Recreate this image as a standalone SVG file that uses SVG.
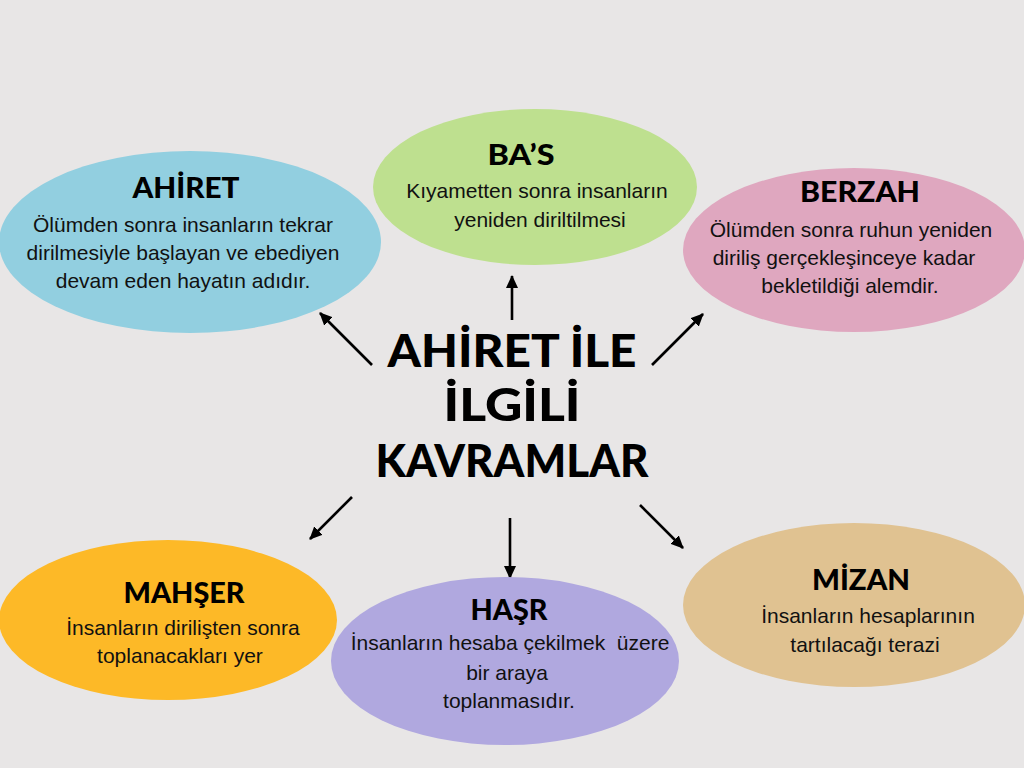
<svg xmlns="http://www.w3.org/2000/svg" width="1024" height="768" viewBox="0 0 1024 768">
<defs>
<marker id="ah" markerUnits="userSpaceOnUse" markerWidth="14" markerHeight="14" viewBox="0 0 14 14" refX="12" refY="7" orient="auto">
<path d="M0,1 L13,7 L0,13 z" fill="#000"/>
</marker>
<style>
.title{font-family:Lato,"Open Sans","DejaVu Sans",sans-serif;font-weight:900;fill:#000;text-anchor:middle}
.body{font-family:"Liberation Sans",Arial,sans-serif;font-size:21px;fill:#111;text-anchor:middle}
.conn line{stroke:#000;stroke-width:2.6;marker-end:url(#ah)}
</style>
</defs>
<rect width="1024" height="768" fill="#E8E6E6"/>

<g id="center">
<text class="title" x="512" y="367" font-size="45" textLength="249" lengthAdjust="spacingAndGlyphs">AHİRET İLE</text>
<text class="title" x="512" y="421" font-size="45" textLength="137" lengthAdjust="spacingAndGlyphs">İLGİLİ</text>
<text class="title" x="512" y="477" font-size="45" textLength="273" lengthAdjust="spacingAndGlyphs">KAVRAMLAR</text>
</g>

<g class="conn" id="connectors">
<line x1="372" y1="365" x2="320" y2="313"/>
<line x1="512" y1="320" x2="512" y2="276"/>
<line x1="652" y1="365" x2="703" y2="314"/>
<line x1="352" y1="497" x2="310" y2="539"/>
<line x1="510" y1="518" x2="510" y2="578"/>
<line x1="640" y1="505" x2="683" y2="548"/>
</g>

<g id="ahiret">
<ellipse cx="190" cy="242" rx="191" ry="91" fill="#92CFE0"/>
<text class="title" x="186" y="198" font-size="29" textLength="107" lengthAdjust="spacingAndGlyphs">AHİRET</text>
<text class="body" x="183" y="232">Ölümden sonra insanların tekrar</text>
<text class="body" x="183" y="260">dirilmesiyle başlayan ve ebediyen</text>
<text class="body" x="183" y="288">devam eden hayatın adıdır.</text>
</g>

<g id="bas">
<ellipse cx="535" cy="187" rx="162" ry="78" fill="#BEE08F"/>
<text class="title" x="521" y="165" font-size="29" textLength="67" lengthAdjust="spacingAndGlyphs">BA’S</text>
<text class="body" x="537" y="198">Kıyametten sonra insanların</text>
<text class="body" x="540" y="227">yeniden diriltilmesi</text>
</g>

<g id="berzah">
<ellipse cx="854" cy="250" rx="171" ry="82" fill="#DFA7BF"/>
<text class="title" x="860" y="202" font-size="29" textLength="120" lengthAdjust="spacingAndGlyphs">BERZAH</text>
<text class="body" x="851" y="237">Ölümden sonra ruhun yeniden</text>
<text class="body" x="844" y="265">diriliş gerçekleşinceye kadar</text>
<text class="body" x="850" y="293">bekletildiği alemdir.</text>
</g>

<g id="mahser">
<ellipse cx="168" cy="620" rx="169" ry="80" fill="#FDB927"/>
<text class="title" x="184" y="603" font-size="29" textLength="121" lengthAdjust="spacingAndGlyphs">MAHŞER</text>
<text class="body" x="183" y="635">İnsanların dirilişten sonra</text>
<text class="body" x="180" y="663">toplanacakları yer</text>
</g>

<g id="hasr">
<ellipse cx="505" cy="661" rx="174" ry="84" fill="#B0A8DF"/>
<text class="title" x="509" y="620" font-size="29" textLength="77" lengthAdjust="spacingAndGlyphs">HAŞR</text>
<text class="body" x="510" y="650" xml:space="preserve">İnsanların hesaba çekilmek  üzere</text>
<text class="body" x="507" y="680">bir araya</text>
<text class="body" x="509" y="708">toplanmasıdır.</text>
</g>

<g id="mizan">
<ellipse cx="854" cy="605" rx="171" ry="82" fill="#E0C291"/>
<text class="title" x="861" y="590" font-size="29" textLength="98" lengthAdjust="spacingAndGlyphs">MİZAN</text>
<text class="body" x="868" y="623">İnsanların hesaplarının</text>
<text class="body" x="865" y="652">tartılacağı terazi</text>
</g>
</svg>
